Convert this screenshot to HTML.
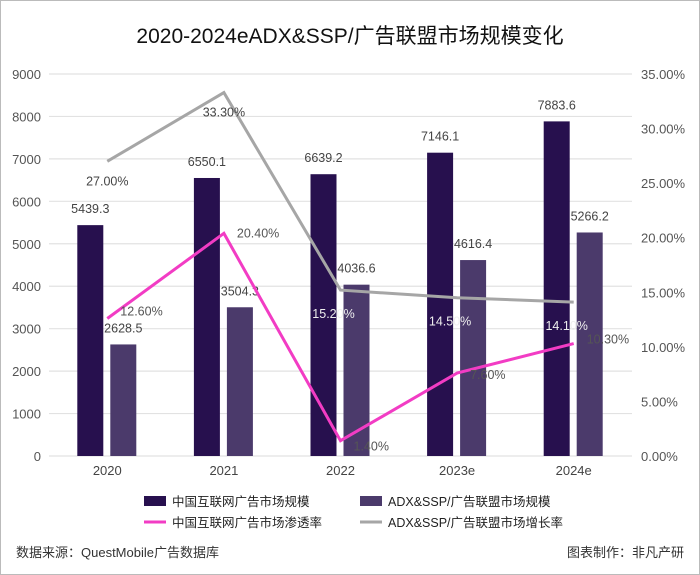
<!DOCTYPE html>
<html><head><meta charset="utf-8"><style>
body{margin:0;background:#fff;font-family:"Liberation Sans","Noto Sans CJK SC",sans-serif;}
#wrap{position:relative;width:698px;height:573px;border:1px solid #bbb;overflow:hidden;}
</style></head><body>
<div id="wrap">
<svg id="chart" width="698" height="573" xmlns="http://www.w3.org/2000/svg"></svg>
</div>
<script>
const categories=["2020","2021","2022","2023e","2024e"];
const internetAd=[5439.3,6550.1,6639.2,7146.1,7883.6];
const adxSsp=[2628.5,3504.3,4036.6,4616.4,5266.2];
const penetration=[12.6,20.4,1.4,7.6,10.3];
const growth=[27.0,33.3,15.2,14.5,14.1];
const leftTicks=[0,1000,2000,3000,4000,5000,6000,7000,8000,9000];
const rightTicks=[0,5,10,15,20,25,30,35];

const NS="http://www.w3.org/2000/svg";
const svg=document.getElementById('chart');
const X0=48,X1=631,Y0=455,Y1=73;
const band=(X1-X0)/categories.length;
const cx=i=>X0+band*(i+0.5);
const yL=v=>Y0-(v/9000)*(Y0-Y1);
const yR=v=>Y0-(v/35)*(Y0-Y1);
function mk(tag,attrs,txt){const e=document.createElementNS(NS,tag);for(const k in attrs)e.setAttribute(k,attrs[k]);if(txt!==undefined)e.textContent=txt;svg.appendChild(e);return e;}

let t=mk('text',{x:349,y:42,'text-anchor':'middle','font-size':21,fill:'#111'},'2020-2024eADX&SSP/广告联盟市场规模变化');



leftTicks.forEach(v=>{
 let g=mk('line',{x1:X0,x2:X1,y1:yL(v),y2:yL(v),stroke:'#e2e2e2','stroke-width':1.2});
 
 
 let l=mk('text',{x:40,y:yL(v)+5,'text-anchor':'end','font-size':13,fill:'#555'},String(v));
 
 
});
rightTicks.forEach(v=>{
 let l=mk('text',{x:640,y:yR(v)+5,'font-size':13,fill:'#555'},v.toFixed(2)+'%');
 
 
});
categories.forEach((c,i)=>{
 let l=mk('text',{x:cx(i),y:474,'text-anchor':'middle','font-size':13,fill:'#444'},c);
 
 
 let b1=mk('rect',{x:cx(i)-30,y:yL(internetAd[i]),width:26,height:Y0-yL(internetAd[i]),fill:'#27104e'});
 
 
 let b2=mk('rect',{x:cx(i)+3,y:yL(adxSsp[i]),width:26,height:Y0-yL(adxSsp[i]),fill:'#4b3a6b'});
 
 
 let v1=mk('text',{x:cx(i)-17,y:yL(internetAd[i])-12,'text-anchor':'middle','font-size':12.5,fill:'#444'},internetAd[i].toFixed(1));
 
 
 let v2=mk('text',{x:cx(i)+16,y:yL(adxSsp[i])-12,'text-anchor':'middle','font-size':12.5,fill:'#444'},adxSsp[i].toFixed(1));
 
 
});
function line(arr,color,name){
 const pts=arr.map((v,i)=>cx(i)+','+yR(v)).join(' ');
 let p=mk('polyline',{points:pts,fill:'none',stroke:color,'stroke-width':3,'stroke-linejoin':'miter'});
 
 
}
line(growth,'#a6a6a6','line-adx-growth');
line(penetration,'#f23cc4','line-penetration');
growth.forEach((v,i)=>{
 const dy=i<2?24:28;
 const fill=i<2?'#444':'#eee';
 let l=mk('text',{x:cx(i)+(i<2?0:-7),y:yR(v)+dy,'text-anchor':'middle','font-size':12.5,fill:fill},v.toFixed(2)+'%');
 
 
});
penetration.forEach((v,i)=>{
 let l=mk('text',{x:cx(i)+13,y:yR(v)+(i==0?-3:i==1?4:i==2?10:i==3?6:0),'font-size':12.5,fill:'#555'},v.toFixed(2)+'%');
 
 
});
const legend=[
 {x:143,y:500,type:'rect',c:'#27104e',t:'中国互联网广告市场规模'},
 {x:359,y:500,type:'rect',c:'#4b3a6b',t:'ADX&SSP/广告联盟市场规模'},
 {x:143,y:521,type:'line',c:'#f23cc4',t:'中国互联网广告市场渗透率'},
 {x:359,y:521,type:'line',c:'#a6a6a6',t:'ADX&SSP/广告联盟市场增长率'}];
legend.forEach(d=>{
 let m=d.type=='rect'?mk('rect',{x:d.x,y:d.y-5,width:22,height:10,fill:d.c}):mk('line',{x1:d.x,x2:d.x+22,y1:d.y,y2:d.y,stroke:d.c,'stroke-width':3});
 
 
 let l=mk('text',{x:d.x+28,y:d.y+5,'font-size':12.5,fill:'#222'},d.t);
 
 
});
let s=mk('text',{x:15,y:556,'font-size':13,fill:'#333'},'数据来源：QuestMobile广告数据库');


let a=mk('text',{x:683,y:556,'text-anchor':'end','font-size':13,fill:'#333'},'图表制作：非凡产研');


</script>
</body></html>
